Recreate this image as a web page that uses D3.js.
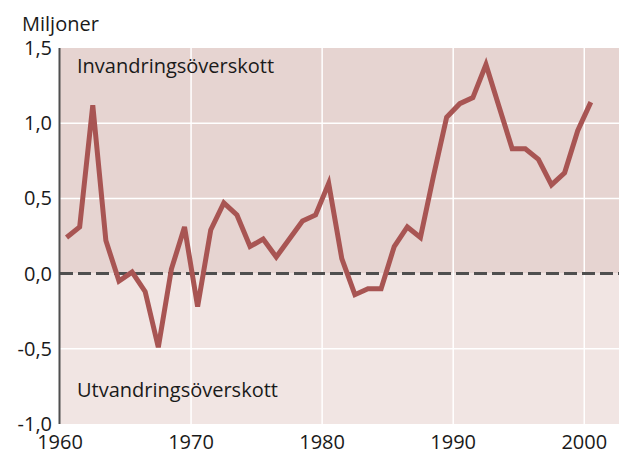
<!DOCTYPE html>
<html lang="sv">
<head>
<meta charset="UTF-8">
<script src="https://d3js.org/d3.v7.min.js"></script>
<style>
  body { margin: 0; background: #fff; }
  svg { display: block; }
  text { font-family: "Open Sans", "Noto Sans", sans-serif; fill: #1a1a1a; }
</style>
</head>
<body>
<svg width="619" height="451"></svg>
<script>
  // nettoinvandring, miljoner per år
  const years = d3.range(1960, 2001);
  const values = [
    0.24, 0.31, 1.12, 0.22, -0.05, 0.01, -0.12, -0.49, 0.03, 0.31,
    -0.22, 0.29, 0.47, 0.39, 0.18, 0.23, 0.11, 0.23, 0.35, 0.39,
    0.60, 0.10, -0.14, -0.10, -0.10, 0.18, 0.31, 0.24, 0.65, 1.04,
    1.13, 1.17, 1.39, 1.11, 0.83, 0.83, 0.76, 0.59, 0.67, 0.95,
    1.14
  ];
  const xTicks = [1960, 1970, 1980, 1990, 2000];
  const yTicks = [-1, -0.5, 0, 0.5, 1, 1.5];

  const svg = d3.select('svg');
  const m = { left: 60, right: 619, top: 48, bottom: 424 };

  const x = d3.scaleLinear().domain([1960, 2002.65]).range([m.left, m.right]);
  const y = d3.scaleLinear().domain([-1, 1.5]).range([m.bottom, m.top]);
  const fmt = d => d3.format('.1f')(d).replace('.', ',').replace('−', '-');

  // background bands
  svg.append('rect')
    .attr('x', m.left).attr('y', y(1.5))
    .attr('width', m.right - m.left).attr('height', y(0) - y(1.5))
    .attr('fill', '#e6d4d1');
  svg.append('rect')
    .attr('x', m.left).attr('y', y(0))
    .attr('width', m.right - m.left).attr('height', y(-1) - y(0))
    .attr('fill', '#f1e5e3');

  // grid
  svg.append('g')
    .selectAll('line')
    .data([-0.5, 0.5, 1])
    .enter().append('line')
    .attr('x1', m.left).attr('x2', m.right)
    .attr('y1', d => y(d)).attr('y2', d => y(d))
    .attr('stroke', '#fff').attr('stroke-width', 1.5);
  svg.append('g')
    .selectAll('line')
    .data(xTicks.slice(1))
    .enter().append('line')
    .attr('x1', d => x(d)).attr('x2', d => x(d))
    .attr('y1', m.top).attr('y2', m.bottom)
    .attr('stroke', '#fff').attr('stroke-width', 1.5);

  // zero line
  svg.append('line')
    .attr('x1', m.left).attr('x2', m.right)
    .attr('y1', y(0)).attr('y2', y(0))
    .attr('stroke', '#4f4f4f').attr('stroke-width', 3)
    .attr('stroke-dasharray', '13,5');

  // left axis line
  svg.append('line')
    .attr('x1', m.left - 0.5).attr('x2', m.left - 0.5)
    .attr('y1', m.top).attr('y2', m.bottom)
    .attr('stroke', '#4f4f4f').attr('stroke-width', 2);

  // y tick labels
  svg.append('g')
    .selectAll('text')
    .data(yTicks)
    .enter().append('text')
    .attr('x', 52)
    .attr('y', d => y(d))
    .attr('dy', '0.35em')
    .attr('text-anchor', 'end')
    .style('font-size', '20px')
    .text(fmt);

  // x tick labels
  svg.append('g')
    .selectAll('text')
    .data(xTicks)
    .enter().append('text')
    .attr('x', d => x(d))
    .attr('y', 449)
    .attr('text-anchor', 'middle')
    .style('font-size', '20px')
    .text(d => d);

  svg.append('text')
    .attr('x', 22).attr('y', 31)
    .style('font-size', '20px')
    .text('Miljoner');

  svg.append('text')
    .attr('x', 77).attr('y', 73)
    .style('font-size', '20px')
    .text('Invandringsöverskott');

  svg.append('text')
    .attr('x', 77).attr('y', 397)
    .style('font-size', '20px')
    .text('Utvandringsöverskott');

  // series
  const line = d3.line()
    .x((d, i) => x(years[i] + 0.5))
    .y(d => y(d));

  svg.append('path')
    .datum(values)
    .attr('d', line)
    .attr('fill', 'none')
    .attr('stroke', '#a85553')
    .attr('stroke-width', 5)
    .attr('stroke-linejoin', 'miter');
</script>
</body>
</html>
